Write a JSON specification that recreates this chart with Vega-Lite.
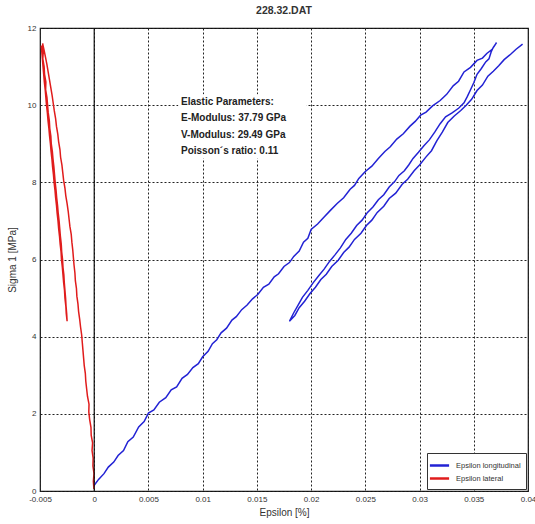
{
"$schema":"https://vega.github.io/schema/vega-lite/v6.json",
"width":488,"height":463,
"autosize":{"type":"none"},
"padding":{"left":40,"top":28,"right":8,"bottom":33},
"title":{"text":"228.32.DAT","fontSize":10.5,"fontWeight":"bold","font":"Liberation Sans","color":"#333","offset":8,"anchor":"middle"},
"config":{"view":{"stroke":"#111","strokeWidth":1.2},"font":"Liberation Sans",
 "legend":{"labelFontSize":7.5,"labelColor":"#333","strokeColor":"#333","fillColor":"white","padding":5,"symbolType":"M-1.6,0H1.6","symbolSize":144,"symbolStrokeWidth":2.5,"rowPadding":0,"labelOffset":9,"cornerRadius":0,"offset":2,"labelLimit":200}},
"data":{"values":[
{"s":"Epsilon longitudinal","i":0,"e":0.0000,"y":0.15},{"s":"Epsilon longitudinal","i":1,"e":0.0004,"y":0.30},{"s":"Epsilon longitudinal","i":2,"e":0.0009,"y":0.45},{"s":"Epsilon longitudinal","i":3,"e":0.0013,"y":0.62},{"s":"Epsilon longitudinal","i":4,"e":0.0018,"y":0.75},{"s":"Epsilon longitudinal","i":5,"e":0.0022,"y":0.92},{"s":"Epsilon longitudinal","i":6,"e":0.0027,"y":1.05},{"s":"Epsilon longitudinal","i":7,"e":0.0031,"y":1.28},{"s":"Epsilon longitudinal","i":8,"e":0.0036,"y":1.40},{"s":"Epsilon longitudinal","i":9,"e":0.0041,"y":1.66},{"s":"Epsilon longitudinal","i":10,"e":0.0046,"y":1.80},{"s":"Epsilon longitudinal","i":11,"e":0.0050,"y":2.02},{"s":"Epsilon longitudinal","i":12,"e":0.0055,"y":2.10},{"s":"Epsilon longitudinal","i":13,"e":0.0060,"y":2.30},{"s":"Epsilon longitudinal","i":14,"e":0.0066,"y":2.42},{"s":"Epsilon longitudinal","i":15,"e":0.0071,"y":2.62},{"s":"Epsilon longitudinal","i":16,"e":0.0076,"y":2.70},{"s":"Epsilon longitudinal","i":17,"e":0.0081,"y":2.92},{"s":"Epsilon longitudinal","i":18,"e":0.0086,"y":3.02},{"s":"Epsilon longitudinal","i":19,"e":0.0091,"y":3.20},{"s":"Epsilon longitudinal","i":20,"e":0.0096,"y":3.30},{"s":"Epsilon longitudinal","i":21,"e":0.0100,"y":3.48},{"s":"Epsilon longitudinal","i":22,"e":0.0105,"y":3.62},{"s":"Epsilon longitudinal","i":23,"e":0.0109,"y":3.82},{"s":"Epsilon longitudinal","i":24,"e":0.0113,"y":3.92},{"s":"Epsilon longitudinal","i":25,"e":0.0117,"y":4.10},{"s":"Epsilon longitudinal","i":26,"e":0.0122,"y":4.22},{"s":"Epsilon longitudinal","i":27,"e":0.0127,"y":4.43},{"s":"Epsilon longitudinal","i":28,"e":0.0131,"y":4.52},{"s":"Epsilon longitudinal","i":29,"e":0.0136,"y":4.70},{"s":"Epsilon longitudinal","i":30,"e":0.0141,"y":4.82},{"s":"Epsilon longitudinal","i":31,"e":0.0146,"y":4.98},{"s":"Epsilon longitudinal","i":32,"e":0.0151,"y":5.10},{"s":"Epsilon longitudinal","i":33,"e":0.0156,"y":5.28},{"s":"Epsilon longitudinal","i":34,"e":0.0161,"y":5.36},{"s":"Epsilon longitudinal","i":35,"e":0.0166,"y":5.55},{"s":"Epsilon longitudinal","i":36,"e":0.0170,"y":5.63},{"s":"Epsilon longitudinal","i":37,"e":0.0175,"y":5.82},{"s":"Epsilon longitudinal","i":38,"e":0.0180,"y":5.92},{"s":"Epsilon longitudinal","i":39,"e":0.0184,"y":6.08},{"s":"Epsilon longitudinal","i":40,"e":0.0189,"y":6.22},{"s":"Epsilon longitudinal","i":41,"e":0.0193,"y":6.45},{"s":"Epsilon longitudinal","i":42,"e":0.0197,"y":6.55},{"s":"Epsilon longitudinal","i":43,"e":0.0200,"y":6.78},{"s":"Epsilon longitudinal","i":44,"e":0.0206,"y":6.92},{"s":"Epsilon longitudinal","i":45,"e":0.0212,"y":7.10},{"s":"Epsilon longitudinal","i":46,"e":0.0218,"y":7.28},{"s":"Epsilon longitudinal","i":47,"e":0.0224,"y":7.45},{"s":"Epsilon longitudinal","i":48,"e":0.0230,"y":7.60},{"s":"Epsilon longitudinal","i":49,"e":0.0236,"y":7.82},{"s":"Epsilon longitudinal","i":50,"e":0.0240,"y":7.92},{"s":"Epsilon longitudinal","i":51,"e":0.0244,"y":8.10},{"s":"Epsilon longitudinal","i":52,"e":0.0250,"y":8.28},{"s":"Epsilon longitudinal","i":53,"e":0.0256,"y":8.42},{"s":"Epsilon longitudinal","i":54,"e":0.0262,"y":8.62},{"s":"Epsilon longitudinal","i":55,"e":0.0268,"y":8.80},{"s":"Epsilon longitudinal","i":56,"e":0.0273,"y":8.92},{"s":"Epsilon longitudinal","i":57,"e":0.0279,"y":9.12},{"s":"Epsilon longitudinal","i":58,"e":0.0285,"y":9.26},{"s":"Epsilon longitudinal","i":59,"e":0.0291,"y":9.45},{"s":"Epsilon longitudinal","i":60,"e":0.0296,"y":9.58},{"s":"Epsilon longitudinal","i":61,"e":0.0301,"y":9.74},{"s":"Epsilon longitudinal","i":62,"e":0.0306,"y":9.82},{"s":"Epsilon longitudinal","i":63,"e":0.0312,"y":9.98},{"s":"Epsilon longitudinal","i":64,"e":0.0319,"y":10.12},{"s":"Epsilon longitudinal","i":65,"e":0.0325,"y":10.28},{"s":"Epsilon longitudinal","i":66,"e":0.0331,"y":10.50},{"s":"Epsilon longitudinal","i":67,"e":0.0336,"y":10.62},{"s":"Epsilon longitudinal","i":68,"e":0.0341,"y":10.86},{"s":"Epsilon longitudinal","i":69,"e":0.0347,"y":10.98},{"s":"Epsilon longitudinal","i":70,"e":0.0353,"y":11.16},{"s":"Epsilon longitudinal","i":71,"e":0.0358,"y":11.22},{"s":"Epsilon longitudinal","i":72,"e":0.0362,"y":11.34},{"s":"Epsilon longitudinal","i":73,"e":0.0367,"y":11.45},{"s":"Epsilon longitudinal","i":74,"e":0.0371,"y":11.62},
{"s":"Epsilon longitudinal","i":75,"e":0.0368,"y":11.50},{"s":"Epsilon longitudinal","i":76,"e":0.0366,"y":11.38},{"s":"Epsilon longitudinal","i":77,"e":0.0364,"y":11.20},{"s":"Epsilon longitudinal","i":78,"e":0.0361,"y":11.12},{"s":"Epsilon longitudinal","i":79,"e":0.0357,"y":10.95},{"s":"Epsilon longitudinal","i":80,"e":0.0353,"y":10.80},{"s":"Epsilon longitudinal","i":81,"e":0.0350,"y":10.58},{"s":"Epsilon longitudinal","i":82,"e":0.0347,"y":10.40},{"s":"Epsilon longitudinal","i":83,"e":0.0344,"y":10.22},{"s":"Epsilon longitudinal","i":84,"e":0.0341,"y":10.06},{"s":"Epsilon longitudinal","i":85,"e":0.0336,"y":9.92},{"s":"Epsilon longitudinal","i":86,"e":0.0330,"y":9.80},{"s":"Epsilon longitudinal","i":87,"e":0.0324,"y":9.70},{"s":"Epsilon longitudinal","i":88,"e":0.0319,"y":9.52},{"s":"Epsilon longitudinal","i":89,"e":0.0314,"y":9.30},{"s":"Epsilon longitudinal","i":90,"e":0.0309,"y":9.10},{"s":"Epsilon longitudinal","i":91,"e":0.0304,"y":8.95},{"s":"Epsilon longitudinal","i":92,"e":0.0299,"y":8.78},{"s":"Epsilon longitudinal","i":93,"e":0.0294,"y":8.62},{"s":"Epsilon longitudinal","i":94,"e":0.0290,"y":8.45},{"s":"Epsilon longitudinal","i":95,"e":0.0286,"y":8.30},{"s":"Epsilon longitudinal","i":96,"e":0.0281,"y":8.18},{"s":"Epsilon longitudinal","i":97,"e":0.0277,"y":8.02},{"s":"Epsilon longitudinal","i":98,"e":0.0272,"y":7.88},{"s":"Epsilon longitudinal","i":99,"e":0.0267,"y":7.68},{"s":"Epsilon longitudinal","i":100,"e":0.0262,"y":7.55},{"s":"Epsilon longitudinal","i":101,"e":0.0257,"y":7.36},{"s":"Epsilon longitudinal","i":102,"e":0.0252,"y":7.22},{"s":"Epsilon longitudinal","i":103,"e":0.0247,"y":7.02},{"s":"Epsilon longitudinal","i":104,"e":0.0242,"y":6.88},{"s":"Epsilon longitudinal","i":105,"e":0.0237,"y":6.68},{"s":"Epsilon longitudinal","i":106,"e":0.0232,"y":6.52},{"s":"Epsilon longitudinal","i":107,"e":0.0227,"y":6.30},{"s":"Epsilon longitudinal","i":108,"e":0.0222,"y":6.12},{"s":"Epsilon longitudinal","i":109,"e":0.0217,"y":5.95},{"s":"Epsilon longitudinal","i":110,"e":0.0212,"y":5.75},{"s":"Epsilon longitudinal","i":111,"e":0.0207,"y":5.58},{"s":"Epsilon longitudinal","i":112,"e":0.0202,"y":5.40},{"s":"Epsilon longitudinal","i":113,"e":0.0197,"y":5.20},{"s":"Epsilon longitudinal","i":114,"e":0.0192,"y":5.02},{"s":"Epsilon longitudinal","i":115,"e":0.0188,"y":4.82},{"s":"Epsilon longitudinal","i":116,"e":0.0184,"y":4.62},{"s":"Epsilon longitudinal","i":117,"e":0.0180,"y":4.40},
{"s":"Epsilon longitudinal","i":118,"e":0.0185,"y":4.55},{"s":"Epsilon longitudinal","i":119,"e":0.0189,"y":4.75},{"s":"Epsilon longitudinal","i":120,"e":0.0194,"y":4.92},{"s":"Epsilon longitudinal","i":121,"e":0.0199,"y":5.12},{"s":"Epsilon longitudinal","i":122,"e":0.0204,"y":5.28},{"s":"Epsilon longitudinal","i":123,"e":0.0209,"y":5.48},{"s":"Epsilon longitudinal","i":124,"e":0.0214,"y":5.62},{"s":"Epsilon longitudinal","i":125,"e":0.0219,"y":5.82},{"s":"Epsilon longitudinal","i":126,"e":0.0225,"y":5.98},{"s":"Epsilon longitudinal","i":127,"e":0.0230,"y":6.18},{"s":"Epsilon longitudinal","i":128,"e":0.0235,"y":6.32},{"s":"Epsilon longitudinal","i":129,"e":0.0240,"y":6.52},{"s":"Epsilon longitudinal","i":130,"e":0.0246,"y":6.68},{"s":"Epsilon longitudinal","i":131,"e":0.0251,"y":6.88},{"s":"Epsilon longitudinal","i":132,"e":0.0256,"y":7.02},{"s":"Epsilon longitudinal","i":133,"e":0.0261,"y":7.22},{"s":"Epsilon longitudinal","i":134,"e":0.0267,"y":7.38},{"s":"Epsilon longitudinal","i":135,"e":0.0272,"y":7.58},{"s":"Epsilon longitudinal","i":136,"e":0.0278,"y":7.72},{"s":"Epsilon longitudinal","i":137,"e":0.0284,"y":7.95},{"s":"Epsilon longitudinal","i":138,"e":0.0289,"y":8.08},{"s":"Epsilon longitudinal","i":139,"e":0.0295,"y":8.30},{"s":"Epsilon longitudinal","i":140,"e":0.0300,"y":8.45},{"s":"Epsilon longitudinal","i":141,"e":0.0306,"y":8.66},{"s":"Epsilon longitudinal","i":142,"e":0.0311,"y":8.82},{"s":"Epsilon longitudinal","i":143,"e":0.0316,"y":9.08},{"s":"Epsilon longitudinal","i":144,"e":0.0321,"y":9.30},{"s":"Epsilon longitudinal","i":145,"e":0.0326,"y":9.55},{"s":"Epsilon longitudinal","i":146,"e":0.0332,"y":9.72},{"s":"Epsilon longitudinal","i":147,"e":0.0338,"y":9.86},{"s":"Epsilon longitudinal","i":148,"e":0.0343,"y":10.00},{"s":"Epsilon longitudinal","i":149,"e":0.0348,"y":10.15},{"s":"Epsilon longitudinal","i":150,"e":0.0353,"y":10.38},{"s":"Epsilon longitudinal","i":151,"e":0.0358,"y":10.52},{"s":"Epsilon longitudinal","i":152,"e":0.0363,"y":10.75},{"s":"Epsilon longitudinal","i":153,"e":0.0368,"y":10.88},{"s":"Epsilon longitudinal","i":154,"e":0.0373,"y":11.02},{"s":"Epsilon longitudinal","i":155,"e":0.0378,"y":11.18},{"s":"Epsilon longitudinal","i":156,"e":0.0384,"y":11.32},{"s":"Epsilon longitudinal","i":157,"e":0.0389,"y":11.45},{"s":"Epsilon longitudinal","i":158,"e":0.0395,"y":11.58},
{"s":"Epsilon lateral","i":0,"e":-0.00003,"y":0.05},{"s":"Epsilon lateral","i":1,"e":-0.00008,"y":0.25},{"s":"Epsilon lateral","i":2,"e":-0.00002,"y":0.45},{"s":"Epsilon lateral","i":3,"e":-0.00012,"y":0.65},{"s":"Epsilon lateral","i":4,"e":-0.00010,"y":0.85},{"s":"Epsilon lateral","i":5,"e":-0.00020,"y":1.05},{"s":"Epsilon lateral","i":6,"e":-0.00015,"y":1.25},{"s":"Epsilon lateral","i":7,"e":-0.00028,"y":1.45},{"s":"Epsilon lateral","i":8,"e":-0.00030,"y":1.65},{"s":"Epsilon lateral","i":9,"e":-0.00042,"y":1.85},{"s":"Epsilon lateral","i":10,"e":-0.00050,"y":2.05},{"s":"Epsilon lateral","i":11,"e":-0.00048,"y":2.25},{"s":"Epsilon lateral","i":12,"e":-0.00062,"y":2.45},{"s":"Epsilon lateral","i":13,"e":-0.00070,"y":2.65},{"s":"Epsilon lateral","i":14,"e":-0.00078,"y":2.85},{"s":"Epsilon lateral","i":15,"e":-0.00082,"y":3.05},{"s":"Epsilon lateral","i":16,"e":-0.00092,"y":3.25},{"s":"Epsilon lateral","i":17,"e":-0.00098,"y":3.45},{"s":"Epsilon lateral","i":18,"e":-0.00104,"y":3.65},{"s":"Epsilon lateral","i":19,"e":-0.00110,"y":3.85},{"s":"Epsilon lateral","i":20,"e":-0.00116,"y":4.05},{"s":"Epsilon lateral","i":21,"e":-0.00126,"y":4.25},{"s":"Epsilon lateral","i":22,"e":-0.00134,"y":4.45},{"s":"Epsilon lateral","i":23,"e":-0.00144,"y":4.65},{"s":"Epsilon lateral","i":24,"e":-0.00150,"y":4.85},{"s":"Epsilon lateral","i":25,"e":-0.00160,"y":5.05},{"s":"Epsilon lateral","i":26,"e":-0.00164,"y":5.25},{"s":"Epsilon lateral","i":27,"e":-0.00174,"y":5.45},{"s":"Epsilon lateral","i":28,"e":-0.00178,"y":5.65},{"s":"Epsilon lateral","i":29,"e":-0.00186,"y":5.85},{"s":"Epsilon lateral","i":30,"e":-0.00192,"y":6.05},{"s":"Epsilon lateral","i":31,"e":-0.00198,"y":6.25},{"s":"Epsilon lateral","i":32,"e":-0.00206,"y":6.45},{"s":"Epsilon lateral","i":33,"e":-0.00212,"y":6.65},{"s":"Epsilon lateral","i":34,"e":-0.00224,"y":6.85},{"s":"Epsilon lateral","i":35,"e":-0.00232,"y":7.05},{"s":"Epsilon lateral","i":36,"e":-0.00240,"y":7.25},{"s":"Epsilon lateral","i":37,"e":-0.00250,"y":7.45},{"s":"Epsilon lateral","i":38,"e":-0.00262,"y":7.65},{"s":"Epsilon lateral","i":39,"e":-0.00270,"y":7.85},{"s":"Epsilon lateral","i":40,"e":-0.00282,"y":8.05},{"s":"Epsilon lateral","i":41,"e":-0.00290,"y":8.25},{"s":"Epsilon lateral","i":42,"e":-0.00298,"y":8.45},{"s":"Epsilon lateral","i":43,"e":-0.00310,"y":8.65},{"s":"Epsilon lateral","i":44,"e":-0.00316,"y":8.85},{"s":"Epsilon lateral","i":45,"e":-0.00328,"y":9.05},{"s":"Epsilon lateral","i":46,"e":-0.00336,"y":9.25},{"s":"Epsilon lateral","i":47,"e":-0.00348,"y":9.45},{"s":"Epsilon lateral","i":48,"e":-0.00356,"y":9.65},{"s":"Epsilon lateral","i":49,"e":-0.00368,"y":9.85},{"s":"Epsilon lateral","i":50,"e":-0.00378,"y":10.05},{"s":"Epsilon lateral","i":51,"e":-0.00388,"y":10.25},{"s":"Epsilon lateral","i":52,"e":-0.00400,"y":10.45},{"s":"Epsilon lateral","i":53,"e":-0.00412,"y":10.65},{"s":"Epsilon lateral","i":54,"e":-0.00424,"y":10.85},{"s":"Epsilon lateral","i":55,"e":-0.00436,"y":11.05},{"s":"Epsilon lateral","i":56,"e":-0.00450,"y":11.25},{"s":"Epsilon lateral","i":57,"e":-0.00462,"y":11.42},{"s":"Epsilon lateral","i":58,"e":-0.00476,"y":11.60},
{"s":"Epsilon lateral","i":59,"e":-0.00470,"y":11.40},{"s":"Epsilon lateral","i":60,"e":-0.00474,"y":11.20},{"s":"Epsilon lateral","i":61,"e":-0.00462,"y":11.00},{"s":"Epsilon lateral","i":62,"e":-0.00458,"y":10.80},{"s":"Epsilon lateral","i":63,"e":-0.00446,"y":10.60},{"s":"Epsilon lateral","i":64,"e":-0.00448,"y":10.40},{"s":"Epsilon lateral","i":65,"e":-0.00436,"y":10.20},{"s":"Epsilon lateral","i":66,"e":-0.00430,"y":10.00},{"s":"Epsilon lateral","i":67,"e":-0.00424,"y":9.80},{"s":"Epsilon lateral","i":68,"e":-0.00414,"y":9.60},{"s":"Epsilon lateral","i":69,"e":-0.00410,"y":9.40},{"s":"Epsilon lateral","i":70,"e":-0.00400,"y":9.20},{"s":"Epsilon lateral","i":71,"e":-0.00396,"y":9.00},{"s":"Epsilon lateral","i":72,"e":-0.00386,"y":8.80},{"s":"Epsilon lateral","i":73,"e":-0.00380,"y":8.60},{"s":"Epsilon lateral","i":74,"e":-0.00372,"y":8.40},{"s":"Epsilon lateral","i":75,"e":-0.00366,"y":8.20},{"s":"Epsilon lateral","i":76,"e":-0.00360,"y":8.00},{"s":"Epsilon lateral","i":77,"e":-0.00352,"y":7.80},{"s":"Epsilon lateral","i":78,"e":-0.00346,"y":7.60},{"s":"Epsilon lateral","i":79,"e":-0.00338,"y":7.40},{"s":"Epsilon lateral","i":80,"e":-0.00332,"y":7.20},{"s":"Epsilon lateral","i":81,"e":-0.00324,"y":7.00},{"s":"Epsilon lateral","i":82,"e":-0.00318,"y":6.80},{"s":"Epsilon lateral","i":83,"e":-0.00312,"y":6.60},{"s":"Epsilon lateral","i":84,"e":-0.00304,"y":6.40},{"s":"Epsilon lateral","i":85,"e":-0.00300,"y":6.20},{"s":"Epsilon lateral","i":86,"e":-0.00292,"y":6.00},{"s":"Epsilon lateral","i":87,"e":-0.00288,"y":5.80},{"s":"Epsilon lateral","i":88,"e":-0.00280,"y":5.60},{"s":"Epsilon lateral","i":89,"e":-0.00276,"y":5.40},{"s":"Epsilon lateral","i":90,"e":-0.00270,"y":5.20},{"s":"Epsilon lateral","i":91,"e":-0.00264,"y":5.00},{"s":"Epsilon lateral","i":92,"e":-0.00260,"y":4.80},{"s":"Epsilon lateral","i":93,"e":-0.00254,"y":4.60},{"s":"Epsilon lateral","i":94,"e":-0.00250,"y":4.40},
{"s":"Epsilon lateral","i":95,"e":-0.00258,"y":4.60},{"s":"Epsilon lateral","i":96,"e":-0.00262,"y":4.80},{"s":"Epsilon lateral","i":97,"e":-0.00270,"y":5.00},{"s":"Epsilon lateral","i":98,"e":-0.00274,"y":5.20},{"s":"Epsilon lateral","i":99,"e":-0.00282,"y":5.40},{"s":"Epsilon lateral","i":100,"e":-0.00288,"y":5.60},{"s":"Epsilon lateral","i":101,"e":-0.00294,"y":5.80},{"s":"Epsilon lateral","i":102,"e":-0.00302,"y":6.00},{"s":"Epsilon lateral","i":103,"e":-0.00306,"y":6.20},{"s":"Epsilon lateral","i":104,"e":-0.00314,"y":6.40},{"s":"Epsilon lateral","i":105,"e":-0.00320,"y":6.60},{"s":"Epsilon lateral","i":106,"e":-0.00328,"y":6.80},{"s":"Epsilon lateral","i":107,"e":-0.00334,"y":7.00},{"s":"Epsilon lateral","i":108,"e":-0.00342,"y":7.20},{"s":"Epsilon lateral","i":109,"e":-0.00348,"y":7.40},{"s":"Epsilon lateral","i":110,"e":-0.00356,"y":7.60},{"s":"Epsilon lateral","i":111,"e":-0.00362,"y":7.80},{"s":"Epsilon lateral","i":112,"e":-0.00370,"y":8.00},{"s":"Epsilon lateral","i":113,"e":-0.00376,"y":8.20},{"s":"Epsilon lateral","i":114,"e":-0.00384,"y":8.40},{"s":"Epsilon lateral","i":115,"e":-0.00390,"y":8.60},{"s":"Epsilon lateral","i":116,"e":-0.00398,"y":8.80},{"s":"Epsilon lateral","i":117,"e":-0.00404,"y":9.00},{"s":"Epsilon lateral","i":118,"e":-0.00412,"y":9.20},{"s":"Epsilon lateral","i":119,"e":-0.00418,"y":9.40},{"s":"Epsilon lateral","i":120,"e":-0.00426,"y":9.60},{"s":"Epsilon lateral","i":121,"e":-0.00432,"y":9.80},{"s":"Epsilon lateral","i":122,"e":-0.00440,"y":10.00},{"s":"Epsilon lateral","i":123,"e":-0.00446,"y":10.20},{"s":"Epsilon lateral","i":124,"e":-0.00452,"y":10.40},{"s":"Epsilon lateral","i":125,"e":-0.00460,"y":10.60},{"s":"Epsilon lateral","i":126,"e":-0.00466,"y":10.80},{"s":"Epsilon lateral","i":127,"e":-0.00472,"y":11.00},{"s":"Epsilon lateral","i":128,"e":-0.00478,"y":11.20},{"s":"Epsilon lateral","i":129,"e":-0.00484,"y":11.40},{"s":"Epsilon lateral","i":130,"e":-0.00488,"y":11.55}
]},
"layer":[
{"mark":{"type":"line","strokeWidth":1.5,"clip":true},
 "encoding":{
  "x":{"field":"e","type":"quantitative","scale":{"domain":[-0.005,0.04],"nice":false,"zero":false},
   "axis":{"values":[-0.005,0,0.005,0.01,0.015,0.02,0.025,0.03,0.035,0.04],"labelExpr":"replace(format(datum.value,'.3~f'),'\u2212','-')","grid":true,"gridDash":[2,2],"gridColor":"#222","gridWidth":1,"ticks":false,"domain":false,"labelFontSize":8,"labelColor":"#333","labelPadding":4,"labelFlush":false,"title":"Epsilon [%]","titleFontSize":10,"titleFontWeight":"normal","titleColor":"#333","titlePadding":4}},
  "y":{"field":"y","type":"quantitative","scale":{"domain":[0,12],"nice":false},
   "axis":{"values":[0,2,4,6,8,10,12],"grid":true,"gridDash":[2,2],"gridColor":"#222","gridWidth":1,"ticks":false,"domain":false,"labelFontSize":8,"labelColor":"#333","labelPadding":4,"title":"Sigma 1 [MPa]","titleFontSize":10,"titleFontWeight":"normal","titleColor":"#333","titlePadding":10}},
  "color":{"field":"s","type":"nominal","scale":{"domain":["Epsilon longitudinal","Epsilon lateral"],"range":["#2222d4","#e01c1c"]},"legend":{"title":null,"orient":"bottom-right"}},
  "order":{"field":"i","type":"quantitative"}
 }},
{"data":{"values":[{}]},"mark":{"type":"rect","fill":"white"},
 "encoding":{"x":{"datum":0.00775},"x2":{"datum":0.0196},"y":{"datum":10.28},"y2":{"datum":8.62}}},
{"data":{"values":[{}]},"mark":{"type":"text","text":["Elastic Parameters:","E-Modulus: 37.79 GPa","V-Modulus: 29.49 GPa","Poisson\u00b4s ratio:  0.11"],"align":"left","baseline":"top","lineHeight":16.5,"fontSize":10,"fontWeight":"bold","font":"Liberation Sans","color":"#222"},
 "encoding":{"x":{"datum":0.0080},"y":{"datum":10.22}}},
{"data":{"values":[{}]},"mark":{"type":"rule","color":"#111","strokeWidth":1.2},
 "encoding":{"x":{"datum":0}}}
]
}
